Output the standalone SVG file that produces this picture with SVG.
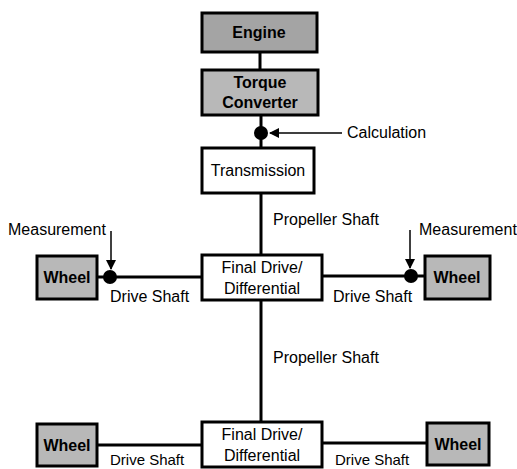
<svg xmlns="http://www.w3.org/2000/svg" width="517" height="469" viewBox="0 0 517 469">
<defs>
<marker id="ah" viewBox="0 0 10 10" refX="9" refY="5" markerWidth="10" markerHeight="10" markerUnits="userSpaceOnUse" orient="auto">
<path d="M0,0 L10,5 L0,10 Z" fill="#000"/>
</marker>
</defs>
<style>
.box{stroke:#000;stroke-width:3}
.dark{fill:#a4a4a4}
.grey{fill:#b8b8b8}
.white{fill:#fff}
.t{font-family:"Liberation Sans",Arial,sans-serif;font-size:16px;fill:#000}
.c{text-anchor:middle}
.b{font-weight:bold}
.ln{stroke:#000;stroke-width:3;fill:none}
.ar{stroke:#000;stroke-width:1.5;fill:none}
</style>
<rect width="517" height="469" fill="#fff"/>
<g id="connectors">
<line class="ln" x1="260" y1="52" x2="260" y2="70"/>
<line class="ln" x1="261" y1="115" x2="261" y2="148"/>
<line class="ln" x1="261" y1="193" x2="261" y2="255"/>
<line class="ln" x1="261" y1="300" x2="261" y2="422"/>
<line class="ln" x1="97" y1="277" x2="202" y2="277"/>
<line class="ln" x1="322" y1="276" x2="425" y2="276"/>
<line class="ln" x1="97" y1="445" x2="202" y2="445"/>
<line class="ln" x1="322" y1="443" x2="427" y2="443"/>
<circle cx="261" cy="133" r="7" fill="#000"/>
<circle cx="110" cy="277" r="7" fill="#000"/>
<circle cx="411" cy="276" r="7" fill="#000"/>
<line class="ar" x1="342" y1="133" x2="270" y2="133" marker-end="url(#ah)"/>
<line class="ar" x1="111" y1="231" x2="111" y2="269" marker-end="url(#ah)"/>
<line class="ar" x1="410" y1="230" x2="410" y2="268" marker-end="url(#ah)"/>
<text class="t" x="347" y="138">Calculation</text>
<text class="t" x="8" y="235">Measurement</text>
<text class="t" x="419" y="235">Measurement</text>
<text class="t" x="273" y="225">Propeller Shaft</text>
<text class="t" x="273" y="363">Propeller Shaft</text>
<text class="t" x="110" y="302">Drive Shaft</text>
<text class="t" x="333" y="302">Drive Shaft</text>
<text class="t" x="110" y="465" style="font-size:15px">Drive Shaft</text>
<text class="t" x="335" y="465" style="font-size:15px">Drive Shaft</text>
</g>
<g id="engine">
<rect class="box dark" x="202" y="13" width="115" height="39"/>
<text class="t c b" x="259" y="38">Engine</text>
</g>
<g id="torque-converter">
<rect class="box grey" x="202" y="70" width="116" height="45"/>
<text class="t c b" x="260" y="88">Torque</text>
<text class="t c b" x="260" y="108">Converter</text>
</g>
<g id="transmission">
<rect class="box white" x="202" y="148" width="112" height="45"/>
<text class="t c" x="258" y="176">Transmission</text>
</g>
<g id="final-drive-1">
<rect class="box white" x="202" y="255" width="120" height="45"/>
<text class="t c" x="262" y="273">Final Drive/</text>
<text class="t c" x="262" y="294">Differential</text>
</g>
<g id="wheel-1l">
<rect class="box grey" x="37" y="256" width="60" height="43"/>
<text class="t c b" x="67" y="283">Wheel</text>
</g>
<g id="wheel-1r">
<rect class="box grey" x="425" y="256" width="65" height="43"/>
<text class="t c b" x="457" y="283">Wheel</text>
</g>
<g id="final-drive-2">
<rect class="box white" x="202" y="422" width="120" height="45"/>
<text class="t c" x="262" y="440">Final Drive/</text>
<text class="t c" x="262" y="461">Differential</text>
</g>
<g id="wheel-2l">
<rect class="box grey" x="37" y="424" width="60" height="42"/>
<text class="t c b" x="67" y="451">Wheel</text>
</g>
<g id="wheel-2r">
<rect class="box grey" x="427" y="423" width="62" height="42"/>
<text class="t c b" x="458" y="450">Wheel</text>
</g>
</svg>
